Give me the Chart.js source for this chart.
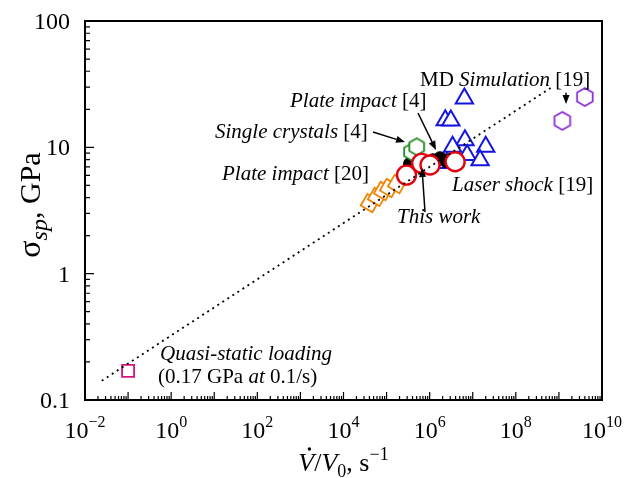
<!DOCTYPE html>
<html><head><meta charset="utf-8">
<script src="https://cdn.jsdelivr.net/npm/chart.js@4"></script>
<style>html,body{margin:0;padding:0;background:#fff;}</style>
</head><body>
<canvas id="c" width="637" height="478"></canvas>
<script>
// ---- data ----
const xTickExponents = [-2, 0, 2, 4, 6, 8, 10];
const yTickValues = [0.1, 1, 10, 100];
const quasiX = [0.1];
const quasiY = [0.17];
const plate20X = [4.1e4, 6.0e4, 8.3e4, 1.14e5, 1.75e5];
const plate20Y = [3.62, 4.05, 4.51, 4.76, 5.12];
const crystalX = [3.8e5, 5.0e5];
const crystalY = [9.2, 10.1];
const plate4X = [3.5e5, 1.2e6, 1.74e6, 2.4e6];
const plate4Y = [7.4, 7.9, 8.2, 7.8];
const laserX = [6.4e6, 2.3e6, 3.1e6, 6.6e6, 3.4e6, 2.0e7, 7.4e6, 1.48e7, 2.5e6];
const laserY = [24.4, 16.4, 16.3, 11.4, 10.1, 10.1, 8.7, 7.9, 7.5];
const thisWorkX = [2.9e5, 6.5e5, 1.02e6, 3.9e6];
const thisWorkY = [6.03, 7.47, 7.24, 7.69];
const mdX = [4.0e9, 1.2e9];
const mdY = [25, 16.2];
const fitX = [0.0245, 6.5e8];
const fitY = [0.142, 29.6];

const pts = (xs, ys) => xs.map((x, i) => ({x, y: ys[i]}));

function hexagon(color, r, lw) {
  const s = Math.ceil(2 * r + lw + 2);
  const c = document.createElement('canvas'); c.width = s; c.height = s;
  const g = c.getContext('2d');
  g.beginPath();
  for (let i = 0; i < 6; i++) {
    const a = -Math.PI / 2 + i * Math.PI / 3;
    const px = s / 2 + r * Math.cos(a), py = s / 2 + r * Math.sin(a);
    i ? g.lineTo(px, py) : g.moveTo(px, py);
  }
  g.closePath(); g.fillStyle = '#fff'; g.fill();
  g.strokeStyle = color; g.lineWidth = lw; g.stroke();
  return c;
}

const FONT = '"Liberation Serif", "Times New Roman", serif';
function fontOf(s, base) { return (s.i ? 'italic ' : '') + (s.size || base) + 'px ' + FONT; }
function rich(ctx, x, y, segs, base, align) {
  let w = 0;
  segs.forEach(s => { ctx.font = fontOf(s, base); s.w = ctx.measureText(s.t).width; w += s.w; });
  let cx = align === 'center' ? x - w / 2 : x;
  const pos = [];
  segs.forEach(s => { ctx.font = fontOf(s, base); ctx.fillText(s.t, cx, y + (s.dy || 0)); pos.push(cx); cx += s.w; });
  return pos;
}

// annotations in log10 data units
const notes = [
  {lx: 5.776, ly: 1.485, segs: [{t: 'MD '}, {t: 'Simulation', i: 1}, {t: ' [19]'}]},
  {lx: 2.758, ly: 1.319, segs: [{t: 'Plate impact', i: 1}, {t: ' [4]'}]},
  {lx: 1.017, ly: 1.074, segs: [{t: 'Single crystals', i: 1}, {t: ' [4]'}]},
  {lx: 1.180, ly: 0.741, segs: [{t: 'Plate impact', i: 1}, {t: ' [20]'}]},
  {lx: 6.519, ly: 0.655, segs: [{t: 'Laser shock', i: 1}, {t: ' [19]'}]},
  {lx: 5.242, ly: 0.401, segs: [{t: 'This work', i: 1}]},
  {lx: -0.259, ly: -0.683, segs: [{t: 'Quasi-static loading', i: 1}]},
  {lx: -0.306, ly: -0.866, segs: [{t: '(0.17 GPa '}, {t: 'at', i: 1}, {t: ' 0.1/s)'}]}
];
const arrows = [
  [9.165, 1.432, 9.165, 1.343],
  [5.729, 1.272, 6.147, 0.979],
  [4.685, 1.121, 5.428, 1.042],
  [5.892, 0.488, 5.822, 0.836]
];

const deco = {
  id: 'deco',
  afterDatasetsDraw(chart) {
    const ctx = chart.ctx, a = chart.chartArea;
    const xs = chart.scales.x, ys = chart.scales.y;
    const X = l => xs.getPixelForValue(Math.pow(10, l));
    const Y = l => ys.getPixelForValue(Math.pow(10, l));
    ctx.save();
    ctx.fillStyle = '#000'; ctx.strokeStyle = '#000';
    // ticks
    ctx.lineWidth = 1.2;
    ctx.beginPath();
    for (let e = -2; e <= 10; e++) {
      for (let k = 1; k <= 9; k++) {
        if (e === 10 && k > 1) break;
        const px = xs.getPixelForValue(k * Math.pow(10, e));
        const len = k === 1 ? 8 : 4;
        ctx.moveTo(px, a.bottom); ctx.lineTo(px, a.bottom - len);
      }
    }
    for (let e = -1; e <= 2; e++) {
      for (let k = 1; k <= 9; k++) {
        if (e === 2 && k > 1) break;
        const py = ys.getPixelForValue(k * Math.pow(10, e));
        const len = k === 1 ? 9 : 5;
        ctx.moveTo(a.left, py); ctx.lineTo(a.left + len, py);
      }
    }
    ctx.stroke();
    // frame
    ctx.lineWidth = 2;
    ctx.strokeRect(a.left, a.top, a.right - a.left, a.bottom - a.top);
    // x tick labels
    ctx.textAlign = 'left'; ctx.textBaseline = 'alphabetic';
    xTickExponents.forEach(e => {
      const s = (e < 0 ? '\u2212' : '') + Math.abs(e);
      rich(ctx, X(e), a.bottom + 38, [{t: '10'}, {t: s, size: 16, dy: -11}], 24, 'center');
    });
    // y tick labels
    ctx.textAlign = 'right';
    ctx.font = '24px ' + FONT;
    yTickValues.forEach(v => ctx.fillText(String(v), a.left - 15, ys.getPixelForValue(v) + 8));
    ctx.textAlign = 'left';
    // x title
    const cx = (a.left + a.right) / 2;
    const pos = rich(ctx, cx, 471, [
      {t: 'V', i: 1}, {t: '/'}, {t: 'V', i: 1}, {t: '0', size: 18, dy: 6}, {t: ', s'}, {t: '\u22121', size: 18, dy: -11}
    ], 26, 'center');
    ctx.beginPath(); ctx.arc(pos[0] + 11, 471 - 22, 1.7, 0, Math.PI * 2); ctx.fill();
    // y title
    ctx.save();
    ctx.translate(40, 205); ctx.rotate(-Math.PI / 2);
    rich(ctx, 0, 0, [{t: '\u03c3', size: 32}, {t: 'sp', i: 1, size: 24, dy: 7}, {t: ', GPa'}], 30, 'center');
    ctx.restore();
    // annotations
    notes.forEach(n => rich(ctx, X(n.lx), Y(n.ly), n.segs, 21, 'left'));
    // arrows
    ctx.lineWidth = 1.5;
    arrows.forEach(([x1, y1, x2, y2]) => {
      const p1x = X(x1), p1y = Y(y1), p2x = X(x2), p2y = Y(y2);
      const ang = Math.atan2(p2y - p1y, p2x - p1x);
      const hl = 9, hw = 3.5;
      const bx = p2x - hl * Math.cos(ang), by = p2y - hl * Math.sin(ang);
      ctx.beginPath(); ctx.moveTo(p1x, p1y); ctx.lineTo(bx, by); ctx.stroke();
      ctx.beginPath();
      ctx.moveTo(p2x, p2y);
      ctx.lineTo(bx + hw * Math.sin(ang), by - hw * Math.cos(ang));
      ctx.lineTo(bx - hw * Math.sin(ang), by + hw * Math.cos(ang));
      ctx.closePath(); ctx.fill();
    });
    ctx.restore();
  }
};

new Chart(document.getElementById('c'), {
  type: 'scatter',
  data: {
    datasets: [
      {label: 'fit', type: 'line', data: pts(fitX, fitY), borderColor: '#000', borderWidth: 1.8,
       borderDash: [2, 4], pointRadius: 0, fill: false, order: 0},
      {label: 'This work', data: pts(thisWorkX, thisWorkY), pointStyle: 'circle', pointRadius: 9.5,
       borderColor: '#e3000f', backgroundColor: '#fff', borderWidth: 2.4, order: 1},
      {label: 'Single crystals [4]', data: pts(crystalX, crystalY), pointStyle: hexagon('#1f8a1f', 8.5, 1.8),
       pointRadius: 9, order: 2},
      {label: 'Plate impact [4]', data: pts(plate4X, plate4Y), pointStyle: 'circle', pointRadius: 6.5,
       borderColor: '#000', backgroundColor: '#000', borderWidth: 1, order: 3},
      {label: 'Laser shock [19]', data: pts(laserX, laserY), pointStyle: 'triangle', pointRadius: 10,
       borderColor: '#1414e0', backgroundColor: '#fff', borderWidth: 2, order: 4},
      {label: 'Plate impact [20]', data: pts(plate20X, plate20Y), pointStyle: 'rect', rotation: 30, pointRadius: 9.5,
       borderColor: '#f08400', backgroundColor: '#fff', borderWidth: 1.8, order: 5},
      {label: 'MD', data: pts(mdX, mdY), pointStyle: hexagon('#8b2fd8', 9, 1.8), pointRadius: 9, order: 6},
      {label: 'Quasi-static', data: pts(quasiX, quasiY), pointStyle: 'rect', pointRadius: 8.5,
       borderColor: '#d4147a', backgroundColor: '#fff', borderWidth: 1.8, order: 7}
    ]
  },
  options: {
    responsive: false, animation: false, devicePixelRatio: 1,
    layout: {padding: {left: 85, top: 21, right: 35, bottom: 78}},
    plugins: {legend: {display: false}, tooltip: {enabled: false}},
    scales: {
      x: {type: 'logarithmic', min: 0.01, max: 1e10, display: false},
      y: {type: 'logarithmic', min: 0.1, max: 100, display: false}
    }
  },
  plugins: [deco]
});
</script>
</body></html>
